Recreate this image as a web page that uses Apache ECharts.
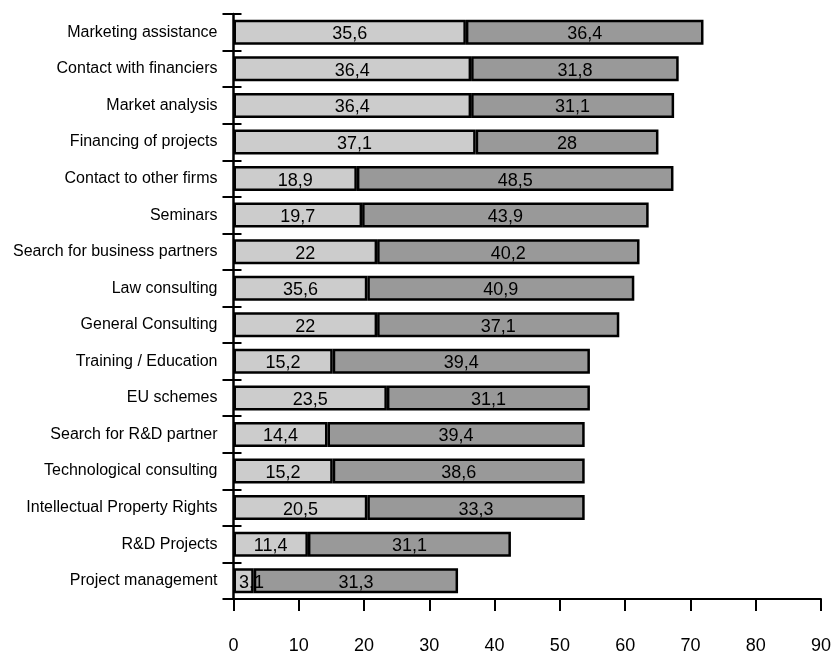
<!DOCTYPE html>
<html>
<head>
<meta charset="utf-8">
<script src="https://cdn.jsdelivr.net/npm/echarts@6/dist/echarts.min.js"></script>
<style>
html,body{margin:0;padding:0;background:#fff;}
#chart{width:834px;height:655px;}
</style>
</head>
<body>
<div id="chart"></div>
<script>
const categories = [
  'Marketing assistance','Contact with financiers','Market analysis','Financing of projects',
  'Contact to other firms','Seminars','Search for business partners','Law consulting',
  'General Consulting','Training / Education','EU schemes','Search for R&D partner',
  'Technological consulting','Intellectual Property Rights','R&D Projects','Project management'
];
// light segment bar lengths as drawn
const lightValues = [35.6, 36.4, 36.4, 37.1, 18.9, 19.7, 22, 20.5, 22, 15.2, 23.5, 14.4, 15.2, 20.5, 11.4, 3.1];
// light segment labels as printed
const lightLabels = ['35,6','36,4','36,4','37,1','18,9','19,7','22','35,6','22','15,2','23,5','14,4','15,2','20,5','11,4','3,1'];
const darkValues = [36.4, 31.8, 31.1, 28, 48.5, 43.9, 40.2, 40.9, 37.1, 39.4, 31.1, 39.4, 38.6, 33.3, 31.1, 31.3];
const xTicks = [0, 10, 20, 30, 40, 50, 60, 70, 80, 90];

const FONT = "'Liberation Sans', Arial, sans-serif";
const fmt = v => String(v).replace('.', ',');

// very short light segments get their label nudged right (as in the original)
const lightData = lightValues.map(v => v < 5 ? {value: v, label: {offset: [8, 2]}} : v);

const chart = echarts.init(document.getElementById('chart'), null, {renderer: 'canvas'});
chart.setOption({
  animation: false,
  backgroundColor: '#fff',
  textStyle: {fontFamily: FONT},
  grid: {left: 233.5, right: 12.5, top: 14, bottom: 55, containLabel: false},
  xAxis: {
    type: 'value', min: xTicks[0], max: xTicks[xTicks.length - 1], interval: 10,
    splitLine: {show: false},
    axisLine: {show: true, lineStyle: {color: '#000', width: 2}},
    axisTick: {show: true, inside: false, length: 12, lineStyle: {color: '#000', width: 2}},
    axisLabel: {color: '#000', fontSize: 18, fontFamily: FONT, margin: 38}
  },
  yAxis: [{
    type: 'category', data: categories, inverse: true,
    axisLine: {show: true, lineStyle: {color: '#000', width: 2.5}},
    axisTick: {show: true, inside: false, length: 11, lineStyle: {color: '#000', width: 2}},
    axisLabel: {color: '#000', fontSize: 16, fontFamily: FONT, margin: 16}
  }, {
    type: 'category', data: categories, inverse: true, position: 'left',
    axisLine: {show: false},
    axisTick: {show: true, inside: true, length: 8, lineStyle: {color: '#000', width: 2}},
    axisLabel: {show: false}
  }],
  series: [{
    type: 'bar', stack: 'total', yAxisIndex: 0, data: lightData, barWidth: 25,
    itemStyle: {color: '#cccccc', borderColor: '#000', borderWidth: 2.5},
    label: {show: true, position: 'inside', color: '#000', fontSize: 18, fontFamily: FONT,
      offset: [0, 2], formatter: p => lightLabels[p.dataIndex]}
  }, {
    type: 'bar', stack: 'total', yAxisIndex: 0, data: darkValues, barWidth: 25,
    itemStyle: {color: '#999999', borderColor: '#000', borderWidth: 2.5},
    label: {show: true, position: 'inside', color: '#000', fontSize: 18, fontFamily: FONT,
      offset: [0, 2], formatter: p => fmt(p.value)}
  }]
});
</script>
</body>
</html>
